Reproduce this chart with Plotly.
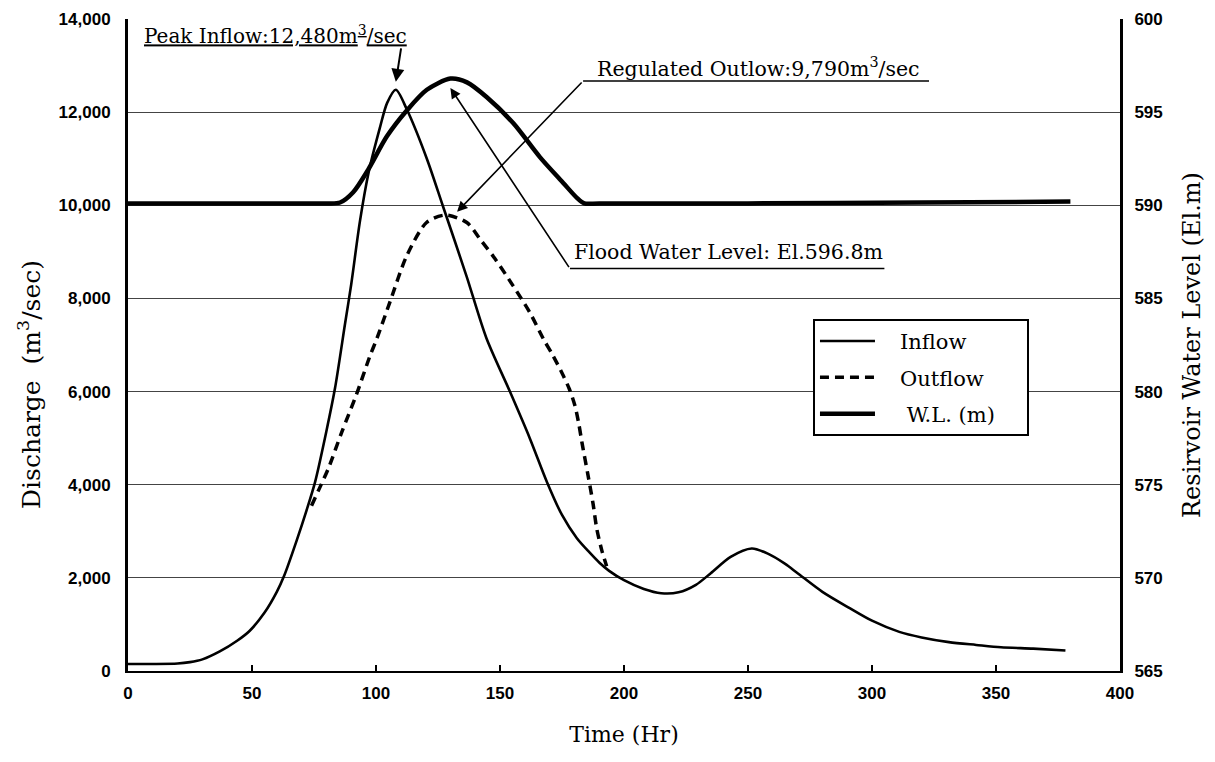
import plotly.graph_objects as go

# ---- data ----
time_in = [0, 10, 20, 25, 30, 37, 44, 49, 55, 60, 63, 68, 72, 75.4, 80, 83.5, 87.5, 90,
           93.5, 97, 101.5, 104.5, 108, 112.5, 120.5, 127, 136.5, 144.5, 154, 162, 169,
           175, 181, 186, 190, 194, 200, 208, 215, 222, 229, 235, 243, 251.5, 258, 265,
           270, 280, 291, 300, 311, 320, 331, 342, 352, 365, 378]
inflow = [150, 150, 160, 190, 250, 420, 650, 860, 1250, 1700, 2050, 2800, 3450, 4050,
          5150, 6080, 7450, 8300, 9650, 10700, 11650, 12200, 12480, 12050, 11000, 9980,
          8480, 7150, 6000, 5000, 4050, 3350, 2850, 2550, 2330, 2150, 1950, 1760, 1670,
          1690, 1850, 2100, 2450, 2630, 2520, 2300, 2100, 1700, 1350, 1080, 840, 720,
          620, 560, 510, 480, 440]

time_out = [74, 77, 80.8, 86.2, 92.2, 97.6, 100.3, 105.6, 112.4, 120.4, 128, 136.6, 142,
            148, 155.3, 162, 167.5, 171.4, 175.5, 178, 180.2, 181.8, 183, 185.5, 187.5,
            189, 191, 193]
outflow = [3550, 3900, 4350, 5130, 5950, 6770, 7130, 7920, 8915, 9630, 9790, 9630, 9270,
           8850, 8270, 7700, 7130, 6770, 6345, 6050, 5700, 5300, 4920, 4200, 3600, 3060,
           2600, 2250]

time_wl = [0, 40, 80, 85.5, 90.8, 96.8, 104.4, 112.5, 120.5, 130, 136.7, 144.7, 155.4,
           166, 175.5, 181, 184, 190, 250, 320, 380]
water_level = [590.1, 590.1, 590.1, 590.15, 590.7, 591.9, 593.7, 595.1, 596.2, 596.8,
               596.6, 595.8, 594.4, 592.6, 591.2, 590.4, 590.1, 590.1, 590.1, 590.15, 590.2]

x_ticks = [0, 50, 100, 150, 200, 250, 300, 350, 400]
q_ticks = [0, 2000, 4000, 6000, 8000, 10000, 12000, 14000]
wl_ticks = [565, 570, 575, 580, 585, 590, 595, 600]

peak_inflow = 12480
regulated_outflow = 9790
flood_level = 596.8

SERIF = "DejaVu Serif, serif"
TICK = "Liberation Sans, Arial, sans-serif"
NB = "\u00a0"

fig = go.Figure()
fig.add_trace(go.Scatter(x=time_in, y=inflow, name=NB * 3 + "Inflow" + NB * 4,
                         legendgroup="a", mode="lines",
                         line=dict(color="black", width=2.6, shape="spline", smoothing=0.8)))
fig.add_trace(go.Scatter(x=time_out, y=outflow, name=NB * 3 + "Outflow", legendgroup="b",
                         mode="lines",
                         line=dict(color="black", width=3.5, dash="9px,6px",
                                   shape="spline", smoothing=0.8)))
fig.add_trace(go.Scatter(x=time_wl, y=water_level, name=NB * 4 + "W.L. (m)" + NB * 4,
                         legendgroup="c", mode="lines", yaxis="y2",
                         line=dict(color="black", width=4.5, shape="spline", smoothing=0.8)))

t_pi = time_in[inflow.index(max(inflow))]
t_po = time_out[outflow.index(max(outflow))]
t_wl = time_wl[water_level.index(max(water_level))]
flood_q = (flood_level - wl_ticks[0]) * (q_ticks[-1] / (wl_ticks[-1] - wl_ticks[0]))

ann = []
ann.append(dict(x=5.5, y=13650, xref="x", yref="y", xanchor="left", yanchor="middle",
                text="<u>Peak Inflow:12,480m<sup>3</sup>/sec</u>", showarrow=False,
                font=dict(family=SERIF, size=20, color="black")))
ann.append(dict(x=t_pi, y=peak_inflow + 170, ax=t_pi + 2.2, ay=13400, xref="x", yref="y",
                axref="x", ayref="y", text="", showarrow=True, arrowhead=2, arrowsize=1.3,
                arrowwidth=2, arrowcolor="black"))
ann.append(dict(x=188.3, y=12950, xref="x", yref="y", xanchor="left", yanchor="middle",
                text="Regulated Outlow:9,790m<sup>3</sup>/sec", showarrow=False,
                font=dict(family=SERIF, size=20.5, color="black")))
ann.append(dict(x=t_po + 4.7, y=regulated_outflow + 70, ax=183.5, ay=12670, xref="x",
                yref="y", axref="x", ayref="y", text="", showarrow=True, arrowhead=2,
                arrowsize=1.3, arrowwidth=1.6, arrowcolor="black"))
ann.append(dict(x=179, y=9005, xref="x", yref="y", xanchor="left", yanchor="middle",
                text="Flood Water Level: El.596.8m", showarrow=False,
                font=dict(family=SERIF, size=20.5, color="black")))
ann.append(dict(x=t_wl, y=flood_q - 200, ax=178.2, ay=8640, xref="x", yref="y",
                axref="x", ayref="y", text="", showarrow=True, arrowhead=2, arrowsize=1.3,
                arrowwidth=1.6, arrowcolor="black"))
# left axis title
ann.append(dict(x=0, y=0.4387, xref="paper", yref="paper", xshift=-98, textangle=-90,
                xanchor="center", yanchor="middle", showarrow=False,
                text="Discharge" + NB * 2 + "(m<sup>3</sup>/sec)",
                font=dict(family=SERIF, size=25, color="black")))

shapes = [
    dict(type="line", xref="x", yref="y", x0=183.5, x1=323, y0=12670, y1=12670,
         line=dict(color="black", width=1.5)),
    dict(type="line", xref="x", yref="y", x0=178.2, x1=305, y0=8640, y1=8640,
         line=dict(color="black", width=1.5)),
]

fig.update_layout(
    width=1215, height=762,
    margin=dict(l=120, r=103, t=11, b=99),
    paper_bgcolor="white", plot_bgcolor="white",
    showlegend=True,
    legend=dict(x=0.6905, y=0.54, xanchor="left", yanchor="top",
                bgcolor="white", bordercolor="black", borderwidth=2,
                font=dict(family=SERIF, size=21, color="black"),
                itemwidth=55, tracegroupgap=6),
    annotations=ann, shapes=shapes,
    xaxis=dict(range=[0, 400], tickvals=x_ticks, ticks="inside", ticklen=6, tickwidth=1.5,
               tickcolor="black", showgrid=False, zeroline=False, automargin=False,
               showline=True, linecolor="black", linewidth=2,
               tickfont=dict(family=TICK, size=17, color="black", weight="bold"),
               ticklabelstandoff=6, ticklabeloverflow="allow",
               title=dict(text="Time (Hr)", font=dict(family=SERIF, size=22, color="black"),
                          standoff=24)),
    yaxis=dict(range=[0, 14000], tickvals=q_ticks, tickformat=",", ticks="",
               showgrid=True, gridcolor="#444", gridwidth=1, zeroline=False,
               automargin=False, showline=True, linecolor="black", linewidth=3,
               tickfont=dict(family=TICK, size=17, color="black", weight="bold"),
               ticklabelstandoff=11, ticklabeloverflow="allow"),
    yaxis2=dict(range=[565, 600], tickvals=wl_ticks, overlaying="y", side="right",
                showgrid=False, zeroline=False, ticks="", automargin=False,
                showline=True, linecolor="black", linewidth=3,
                tickfont=dict(family=TICK, size=17, color="black", weight="bold"),
                ticklabelstandoff=8, ticklabeloverflow="allow",
                title=dict(text="Resirvoir Water Level (El.m)",
                           font=dict(family=SERIF, size=24, color="black"), standoff=22)),
)

fig.write_html("out.html")
